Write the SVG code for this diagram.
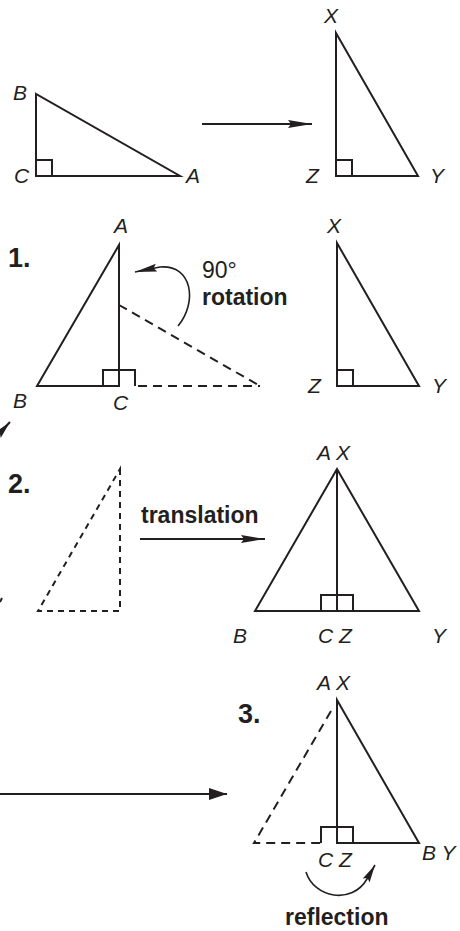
<svg xmlns="http://www.w3.org/2000/svg" width="460" height="931" viewBox="0 0 460 931">
<style>
.ln{fill:none;stroke:#231f20;stroke-width:2;stroke-linejoin:miter}
.dsh{fill:none;stroke:#231f20;stroke-width:2;stroke-dasharray:9 6}
.dsh2{fill:none;stroke:#231f20;stroke-width:2;stroke-dasharray:6 5}
.lab{font-family:"Liberation Sans",Arial,sans-serif;font-style:italic;font-size:21px;fill:#231f20}
.num{font-family:"Liberation Sans",Arial,sans-serif;font-weight:bold;font-size:27px;fill:#231f20}
.bt{font-family:"Liberation Sans",Arial,sans-serif;font-weight:bold;font-size:23px;fill:#231f20}
.rt{font-family:"Liberation Sans",Arial,sans-serif;font-size:23px;fill:#231f20}
.arr{fill:none;stroke:#231f20;stroke-width:2}
.arc{fill:none;stroke:#231f20;stroke-width:1.6}
</style>
<defs>
<marker id="hs" markerUnits="userSpaceOnUse" markerWidth="26" markerHeight="10" refX="24" refY="4" orient="auto"><path d="M0,0 L24,4 L0,8 L3,4 z" fill="#231f20"/></marker>
<marker id="hf" markerUnits="userSpaceOnUse" markerWidth="20" markerHeight="14" refX="18" refY="6" orient="auto"><path d="M0,0 L18,6 L0,12 z" fill="#231f20"/></marker>
<marker id="hc" markerUnits="userSpaceOnUse" markerWidth="24" markerHeight="10" refX="22" refY="4" orient="auto"><path d="M0,0 L22,4 L0,8 L3,4 z" fill="#231f20"/></marker>
<marker id="hr" markerUnits="userSpaceOnUse" markerWidth="20" markerHeight="10" refX="18" refY="4" orient="auto"><path d="M0,0 L18,4 L0,8 L3,4 z" fill="#231f20"/></marker>
</defs>

<g id="tri-ABC-top">
<path class="ln" d="M36,94 L36,176 L180,176 Z"/>
<path class="ln" d="M36,160 L52,160 L52,176"/>
<text class="lab" x="13" y="100">B</text>
<text class="lab" x="14" y="183">C</text>
<text class="lab" x="186" y="183">A</text>
</g>

<g id="tri-XYZ-top">
<path class="ln" d="M336,33 L336,176 L418,176 Z"/>
<path class="ln" d="M336,160 L352,160 L352,176"/>
<text class="lab" x="324" y="23">X</text>
<text class="lab" x="306" y="183">Z</text>
<text class="lab" x="430" y="183">Y</text>
</g>

<g id="step1">
<text class="num" x="8" y="267">1.</text>
<path class="ln" d="M119,245 L119,386 L37,386 Z"/>
<path class="ln" d="M103,386 L103,370 L135,370 L135,386"/>
<path class="dsh" d="M119,305 L260,386"/>
<path class="dsh" d="M138,386 L260,386"/>
<text class="lab" x="114" y="233">A</text>
<text class="lab" x="13" y="408">B</text>
<text class="lab" x="113" y="410">C</text>
<text class="rt" x="202" y="278">90°</text>
<text class="bt" x="202" y="305">rotation</text>
</g>

<g id="step1-XYZ">
<path class="ln" d="M337,243 L337,386 L419,386 Z"/>
<path class="ln" d="M337,370 L353,370 L353,386"/>
<text class="lab" x="327" y="233">X</text>
<text class="lab" x="308" y="393">Z</text>
<text class="lab" x="432" y="393">Y</text>
</g>

<g id="step2">
<text class="num" x="8" y="493">2.</text>
<path class="dsh2" d="M120,469 L120,611 L38,611 Z"/>
<text class="bt" x="141" y="523">translation</text>
</g>

<g id="step2-result">
<path class="ln" d="M337,469 L419,611 L255,611 Z"/>
<path class="ln" d="M337,469 L337,611"/>
<path class="ln" d="M321,611 L321,595 L353,595 L353,611"/>
<text class="lab" x="317" y="460">A X</text>
<text class="lab" x="233" y="643">B</text>
<text class="lab" x="318" y="643">C Z</text>
<text class="lab" x="432" y="643">Y</text>
</g>

<g id="step3">
<text class="num" x="238" y="723">3.</text>
<path class="ln" d="M337,700 L337,843 L419,843 Z"/>
<path class="ln" d="M321,843 L321,827 L353,827 L353,843"/>
<path class="dsh" d="M331,711 L254,843 L321,843"/>
<text class="lab" x="317" y="690">A X</text>
<text class="lab" x="318" y="867">C Z</text>
<text class="lab" x="422" y="860">B Y</text>
<text class="bt" x="285" y="925">reflection</text>
</g>

<g id="connectors">
<line class="arr" x1="202" y1="124" x2="312" y2="124" marker-end="url(#hs)"/>
<path class="arc" d="M178,326 C198,302 192,264 160,267 L135,272" marker-end="url(#hc)"/>
<line class="arr" x1="140" y1="539" x2="265" y2="539" marker-end="url(#hs)"/>
<line class="arr" x1="0" y1="794" x2="227" y2="794" marker-end="url(#hf)"/>
<path class="arc" d="M306,872 C314,898 352,905 367,879 L375,865" marker-end="url(#hr)"/>
<line class="arr" x1="-14" y1="448" x2="10" y2="422" marker-end="url(#hr)"/>
<line class="arr" x1="0" y1="602" x2="2" y2="598"/>
</g>
</svg>
